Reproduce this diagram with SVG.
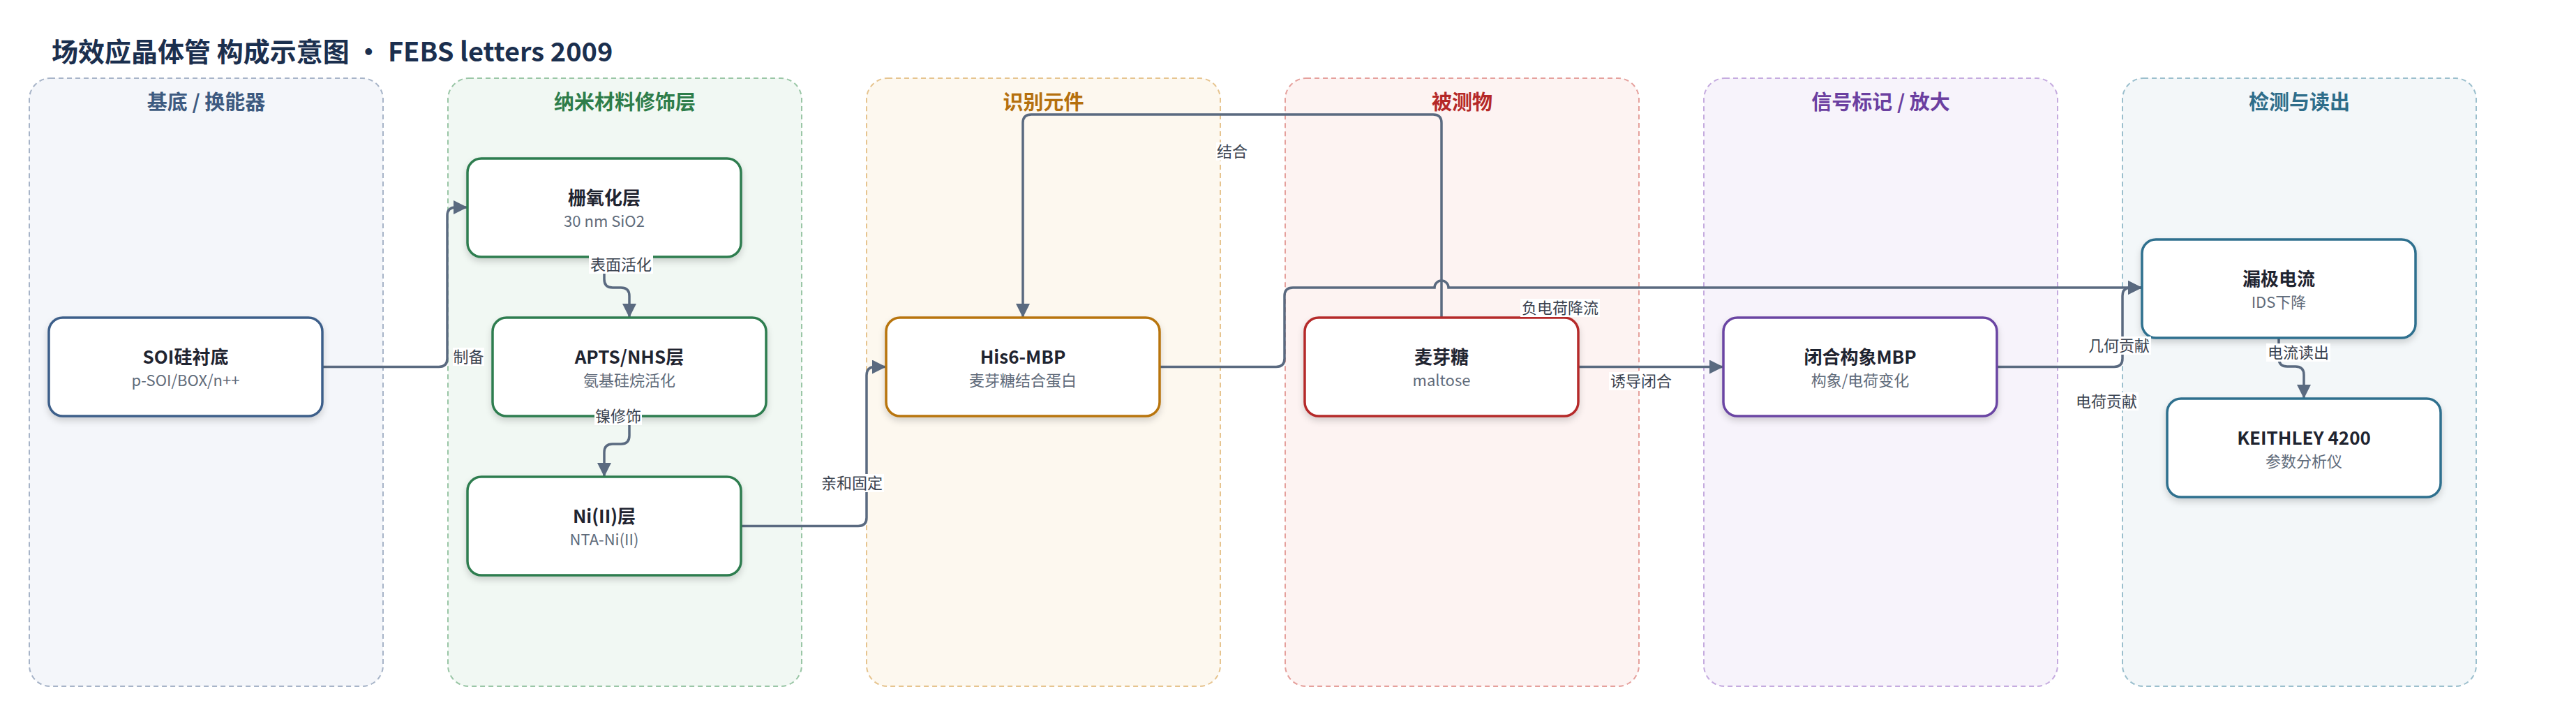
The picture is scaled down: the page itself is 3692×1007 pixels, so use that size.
<svg xmlns="http://www.w3.org/2000/svg" width="3692" height="1007" viewBox="0 0 3692 1007">
<defs>
<style>
text{font-family:"Noto Sans CJK SC","Noto Sans",sans-serif;}
.title{font-size:38px;font-weight:700;fill:#1b2f4e;}
.gbox{stroke-width:2;stroke-dasharray:7 5;}
.ghead{font-size:29px;font-weight:700;text-anchor:middle;}
.node{fill:#fff;stroke-width:3.5;filter:url(#sh);}
.nt{font-size:26px;font-weight:700;fill:#1f2430;text-anchor:middle;}
.ns{font-size:22px;fill:#5f6b7a;text-anchor:middle;}
.edge{fill:none;stroke:#5a6a80;stroke-width:3.5;marker-end:url(#arr);}
.lbg{fill:#fff;}
.lt{font-size:22px;fill:#3a4350;text-anchor:middle;}
</style>
<filter id="sh" x="-10%" y="-20%" width="120%" height="150%">
<feDropShadow dx="0" dy="5" stdDeviation="5" flood-color="#000" flood-opacity="0.16"/>
</filter>
<marker id="arr" markerUnits="userSpaceOnUse" markerWidth="20" markerHeight="20" refX="20" refY="10" orient="auto">
<path d="M0,0 L20,10 L0,20 z" fill="#5a6a80"/>
</marker>
</defs>
<rect width="3692" height="1007" fill="#fff"/>
<text class="title" x="74" y="88">场效应晶体管 构成示意图 · FEBS letters 2009</text>

<g id="groups">
<g id="g-substrate"><rect class="gbox" x="42" y="112" width="507" height="871" rx="30" fill="#f4f6fa" stroke="#a7b4c8"/><text class="ghead" x="295.5" y="157" fill="#3d5a80">基底 / 换能器</text></g>
<g id="g-nano"><rect class="gbox" x="642" y="112" width="507" height="871" rx="30" fill="#f1f8f3" stroke="#9ac6a6"/><text class="ghead" x="895.5" y="157" fill="#2e7d4a">纳米材料修饰层</text></g>
<g id="g-recog"><rect class="gbox" x="1242" y="112" width="507" height="871" rx="30" fill="#fdf8ef" stroke="#e6c48f"/><text class="ghead" x="1495.5" y="157" fill="#b5700e">识别元件</text></g>
<g id="g-analyte"><rect class="gbox" x="1842" y="112" width="507" height="871" rx="30" fill="#fdf3f2" stroke="#e5a09c"/><text class="ghead" x="2095.5" y="157" fill="#b52828">被测物</text></g>
<g id="g-signal"><rect class="gbox" x="2442" y="112" width="507" height="871" rx="30" fill="#f7f3fb" stroke="#c5abdf"/><text class="ghead" x="2695.5" y="157" fill="#6b3fa0">信号标记 / 放大</text></g>
<g id="g-detect"><rect class="gbox" x="3042" y="112" width="507" height="871" rx="30" fill="#f3f7f9" stroke="#9bbfcd"/><text class="ghead" x="3295.5" y="157" fill="#2e6d8a">检测与读出</text></g>
</g>

<g id="connectors">
<path class="edge" d="M462,525.5 H629 Q641,525.5 641,513.5 V309 Q641,297 653,297 H670"/>
<path class="edge" d="M866,368 V400 Q866,412 878,412 H890 Q902,412 902,424 V455"/>
<path class="edge" d="M902,596 V624 Q902,636 890,636 H878 Q866,636 866,648 V683"/>
<path class="edge" d="M1062,753.5 H1230 Q1242,753.5 1242,741.5 V537.5 Q1242,525.5 1254,525.5 H1270"/>
<path class="edge" d="M2066,455 V176 Q2066,164 2054,164 H1478 Q1466,164 1466,176 V455"/>
<path class="edge" d="M1662,525.5 H1829 Q1841,525.5 1841,513.5 V424 Q1841,412 1853,412 H2056 A10,10 0 0 1 2076,412 H3070"/>
<path class="edge" d="M2262,525.5 H2470"/>
<path class="edge" d="M2862,525.5 H3030 Q3042,525.5 3042,513.5 V424 Q3042,412 3054,412 H3070"/>
<path class="edge" d="M3266,484 V513 Q3266,525 3278,525 H3290 Q3302,525 3302,537 V571"/>
</g>

<g id="nodes">
<g id="n-soi"><rect class="node" x="70" y="455" width="392" height="141" rx="20" stroke="#3d5f8a"/><text class="nt" x="266" y="521">SOI硅衬底</text><text class="ns" x="266" y="553">p-SOI/BOX/n++</text></g>
<g id="n-oxide"><rect class="node" x="670" y="227" width="392" height="141" rx="20" stroke="#2e7d4f"/><text class="nt" x="866" y="293">栅氧化层</text><text class="ns" x="866" y="325">30 nm SiO2</text></g>
<g id="n-apts"><rect class="node" x="706" y="455" width="392" height="141" rx="20" stroke="#2e7d4f"/><text class="nt" x="902" y="521">APTS/NHS层</text><text class="ns" x="902" y="553">氨基硅烷活化</text></g>
<g id="n-ni"><rect class="node" x="670" y="683" width="392" height="141" rx="20" stroke="#2e7d4f"/><text class="nt" x="866" y="749">Ni(II)层</text><text class="ns" x="866" y="781">NTA-Ni(II)</text></g>
<g id="n-his6"><rect class="node" x="1270" y="455" width="392" height="141" rx="20" stroke="#b8740c"/><text class="nt" x="1466" y="521">His6-MBP</text><text class="ns" x="1466" y="553">麦芽糖结合蛋白</text></g>
<g id="n-maltose"><rect class="node" x="1870" y="455" width="392" height="141" rx="20" stroke="#b52a2a"/><text class="nt" x="2066" y="521">麦芽糖</text><text class="ns" x="2066" y="553">maltose</text></g>
<g id="n-closed"><rect class="node" x="2470" y="455" width="392" height="141" rx="20" stroke="#6b45a3"/><text class="nt" x="2666" y="521">闭合构象MBP</text><text class="ns" x="2666" y="553">构象/电荷变化</text></g>
<g id="n-ids"><rect class="node" x="3070" y="343" width="392" height="141" rx="20" stroke="#2f6f8e"/><text class="nt" x="3266" y="409">漏极电流</text><text class="ns" x="3266" y="441">IDS下降</text></g>
<g id="n-keithley"><rect class="node" x="3106" y="571" width="392" height="141" rx="20" stroke="#2f6f8e"/><text class="nt" x="3302" y="637">KEITHLEY 4200</text><text class="ns" x="3302" y="669">参数分析仪</text></g>
</g>

<g id="connector-labels">
<rect class="lbg" x="649" y="498" width="45" height="26"/><text class="lt" x="671.5" y="519">制备</text>
<rect class="lbg" x="844" y="366" width="92" height="26"/><text class="lt" x="890" y="387">表面活化</text>
<rect class="lbg" x="852" y="583" width="68" height="26"/><text class="lt" x="886" y="604">镍修饰</text>
<rect class="lbg" x="1175" y="679" width="92" height="26"/><text class="lt" x="1221" y="700">亲和固定</text>
<rect class="lbg" x="1743" y="204" width="46" height="26"/><text class="lt" x="1766" y="225">结合</text>
<rect class="lbg" x="2179" y="428" width="114" height="26"/><text class="lt" x="2236" y="449">负电荷降流</text>
<rect class="lbg" x="2306" y="533" width="92" height="26"/><text class="lt" x="2352" y="554">诱导闭合</text>
<rect class="lbg" x="2991" y="482" width="92" height="26"/><text class="lt" x="3037" y="503">几何贡献</text>
<rect class="lbg" x="2973" y="562" width="92" height="26"/><text class="lt" x="3019" y="583">电荷贡献</text>
<rect class="lbg" x="3248" y="492" width="92" height="26"/><text class="lt" x="3294" y="513">电流读出</text>
</g>
</svg>
